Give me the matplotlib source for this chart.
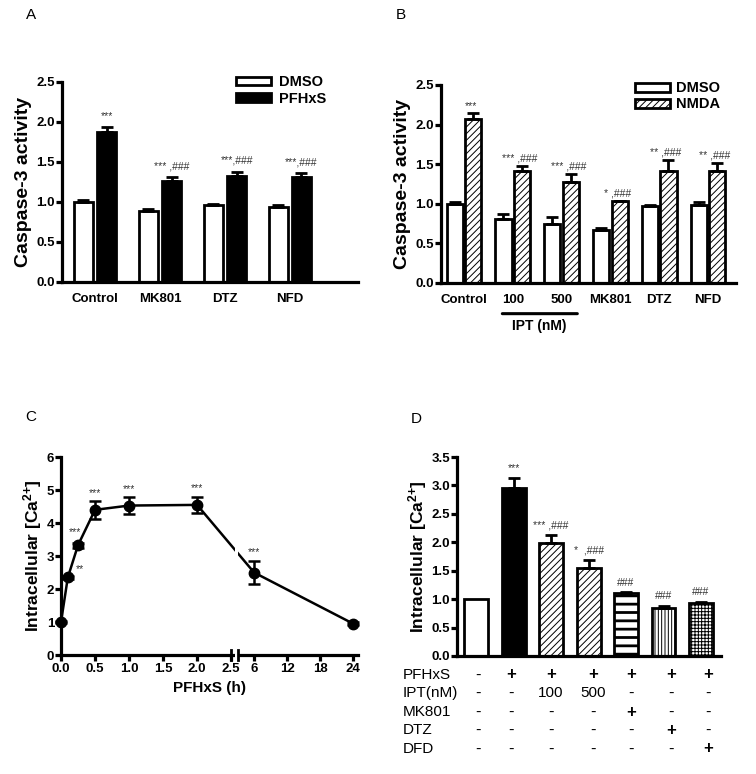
import numpy as np
import matplotlib
matplotlib.use("Agg")
import matplotlib.pyplot as plt
from matplotlib.patches import Patch

plt.rcParams['font.family'] = ['Liberation Sans', 'DejaVu Sans']
plt.rcParams['mathtext.default'] = 'bf'
plt.rcParams['mathtext.fontset'] = 'custom'
plt.rcParams['mathtext.bf'] = 'Liberation Sans:bold'
plt.rcParams['mathtext.rm'] = 'Liberation Sans'
plt.rcParams['hatch.linewidth'] = 0.7

# --- Panel A data ---
a_groups = ["Control", "MK801", "DTZ", "NFD"]
a_dmso = [1.00, 0.89, 0.96, 0.94]
a_dmso_err = [0.03, 0.02, 0.02, 0.02]
a_pfhxs = [1.88, 1.26, 1.33, 1.31]
a_pfhxs_err = [0.06, 0.05, 0.05, 0.05]
a_marks = ["***", "*** ,###", "***,###", "***,###"]

# --- Panel B data ---
b_groups = ["Control", "100", "500", "MK801", "DTZ", "NFD"]
b_dmso = [1.00, 0.81, 0.75, 0.67, 0.97, 0.99]
b_dmso_err = [0.02, 0.06, 0.08, 0.02, 0.02, 0.03]
b_nmda = [2.07, 1.41, 1.27, 1.03, 1.41, 1.41]
b_nmda_err = [0.07, 0.07, 0.11, 0.01, 0.14, 0.11]
b_marks = ["***", "*** ,###", "*** ,###", "* ,###", "** ,###", "** ,###"]

# --- Panel C data ---
c_time = [0.0, 0.1, 0.25, 0.5, 1.0, 2.0, 6.0, 24.0]
c_ca = [1.00, 2.35, 3.33, 4.40, 4.53, 4.55, 2.50, 0.95]
c_err = [0.03, 0.05, 0.08, 0.27, 0.25, 0.25, 0.36, 0.04]
c_marks = ["", "**", "***", "***", "***", "***", "***", ""]
c_ticks = [0.0, 0.5, 1.0, 1.5, 2.0, 2.5, 6, 12, 18, 24]
c_ticklabels = ["0.0", "0.5", "1.0", "1.5", "2.0", "2.5", "6", "12", "18", "24"]

# --- Panel D data ---
d_ca = [1.00, 2.95, 1.99, 1.54, 1.10, 0.84, 0.93]
d_err = [0.00, 0.18, 0.14, 0.15, 0.02, 0.04, 0.02]
d_marks = ["", "***", "*** ,###", "*  ,###", "###", "###", "###"]
d_rows = ["PFHxS", "IPT(nM)", "MK801", "DTZ", "DFD"]
d_table = [
    ["-", "+", "+", "+", "+", "+", "+"],
    ["-", "-", "100", "500", "-", "-", "-"],
    ["-", "-", "-", "-", "+", "-", "-"],
    ["-", "-", "-", "-", "-", "+", "-"],
    ["-", "-", "-", "-", "-", "-", "+"],
]

fig = plt.figure(figsize=(7.56, 7.74), dpi=100)

SPINE_W = 2.3
EDGE_W = 2.0
mark_kw = dict(ha='center', va='bottom', fontsize=7.5, color='#333333')
ca_label = "Intracellular [Ca$^{2{+}}$]"


def style_axes(ax):
    for s in ['top', 'right']:
        ax.spines[s].set_visible(False)
    for s in ['left', 'bottom']:
        ax.spines[s].set_linewidth(SPINE_W)
    ax.tick_params(axis='y', width=SPINE_W, length=4, labelsize=9.5, pad=1)
    for lab in ax.get_yticklabels():
        lab.set_fontweight('bold')


def err_kw():
    return dict(ecolor='black', elinewidth=EDGE_W, capsize=4.5, capthick=EDGE_W)


# ---------------- Panel A ----------------
axA = fig.add_axes([0.082, 0.6357, 0.3915, 0.2584])
x = np.arange(len(a_groups))
w = 0.29
off = 0.18
axA.bar(x - off, a_dmso, w, color='white', edgecolor='black', linewidth=EDGE_W,
        yerr=[np.zeros(4), a_dmso_err], error_kw=err_kw(), zorder=2)
axA.bar(x + off, a_pfhxs, w, color='black', edgecolor='black', linewidth=EDGE_W,
        yerr=[np.zeros(4), a_pfhxs_err], error_kw=err_kw(), zorder=2)
for i, m in enumerate(a_marks):
    axA.text(x[i] + off, a_pfhxs[i] + a_pfhxs_err[i] + 0.07, m, **mark_kw)
axA.set_xlim(-0.51, 4.05)
axA.set_ylim(0, 2.5)
axA.set_yticks(np.arange(0, 2.51, 0.5))
axA.set_yticklabels([f"{v:.1f}" for v in np.arange(0, 2.51, 0.5)])
axA.set_xticks(x)
axA.set_xticklabels(a_groups, fontweight='bold', fontsize=9.5)
axA.tick_params(axis='x', length=0, pad=8)
axA.set_ylabel("Caspase-3 activity", fontsize=14, fontweight='bold', labelpad=3)
style_axes(axA)
axA.legend(handles=[Patch(facecolor='white', edgecolor='black', linewidth=EDGE_W, label='DMSO'),
                    Patch(facecolor='black', edgecolor='black', linewidth=EDGE_W, label='PFHxS')],
           loc='upper left', bbox_to_anchor=(0.545, 1.1), frameon=False,
           handlelength=2.4, handleheight=0.55, handletextpad=0.5, labelspacing=0.2,
           prop={'weight': 'bold', 'size': 10.5})
fig.text(26 / 756, 1 - 15 / 774, "A", fontsize=11, va='center', ha='left')

# ---------------- Panel B ----------------
axB = fig.add_axes([0.5833, 0.6344, 0.390, 0.2558])
x = np.arange(len(b_groups))
w = 0.33
off = 0.19
axB.bar(x - off, b_dmso, w, color='white', edgecolor='black', linewidth=EDGE_W,
        yerr=[np.zeros(6), b_dmso_err], error_kw=err_kw(), zorder=2)
axB.bar(x + off, b_nmda, w, color='white', edgecolor='black', linewidth=EDGE_W,
        hatch='/////', yerr=[np.zeros(6), b_nmda_err], error_kw=err_kw(), zorder=2)
for i, m in enumerate(b_marks):
    axB.text(x[i] + off - 0.05, b_nmda[i] + b_nmda_err[i] + 0.03, m, **mark_kw)
axB.set_xlim(-0.47, 5.57)
axB.set_ylim(0, 2.5)
axB.set_yticks(np.arange(0, 2.51, 0.5))
axB.set_yticklabels([f"{v:.1f}" for v in np.arange(0, 2.51, 0.5)])
axB.set_xticks(x)
axB.set_xticklabels(b_groups, fontweight='bold', fontsize=9.5)
axB.tick_params(axis='x', length=0, pad=8)
axB.set_ylabel("Caspase-3 activity", fontsize=14, fontweight='bold', labelpad=3)
style_axes(axB)
axB.legend(handles=[Patch(facecolor='white', edgecolor='black', linewidth=EDGE_W, label='DMSO'),
                    Patch(facecolor='white', edgecolor='black', linewidth=EDGE_W, hatch='/////', label='NMDA')],
           loc='upper left', bbox_to_anchor=(0.615, 1.085), frameon=False,
           handlelength=2.4, handleheight=0.55, handletextpad=0.4, labelspacing=0.15,
           prop={'weight': 'bold', 'size': 10.5})
# IPT (nM) bracket under 100 and 500
axB.annotate("", xy=(0.73, -0.155), xytext=(2.38, -0.155), xycoords=('data', 'axes fraction'),
             arrowprops=dict(arrowstyle='-', lw=2.2, color='black'), annotation_clip=False)
axB.text(1.55, -0.215, "IPT (nM)", transform=axB.get_xaxis_transform(), ha='center', va='center',
         fontsize=10, fontweight='bold')
fig.text(396 / 756, 1 - 15 / 774, "B", fontsize=11, va='center', ha='left')

# ---------------- Panel C ----------------
def c_fwd(t):
    t = np.asarray(t, dtype=float)
    return np.where(t <= 2.5, t * 68.0, 193.0 + (t - 6.0) * 5.5)


def c_inv(u):
    u = np.asarray(u, dtype=float)
    return np.where(u <= 170.0, u / 68.0,
                    np.where(u < 173.75, 2.5, (u - 193.0) / 5.5 + 6.0))


axC = fig.add_axes([0.0807, 0.1537, 0.393, 0.2558])
axC.set_xscale('function', functions=(c_fwd, c_inv))
axC.errorbar(c_time, c_ca, yerr=c_err, color='black', lw=1.8, marker='o', markersize=7.5,
             ecolor='black', elinewidth=1.8, capsize=4.5, capthick=1.8, clip_on=False, zorder=3)
t_gap_end = float(c_inv(177.0))
axC.axvspan(2.52, t_gap_end - 0.02, ymin=-0.02, ymax=1.0, color='white', zorder=4,
            clip_on=False, lw=0)
bt = axC.get_xaxis_transform()
for xb in [2.5, t_gap_end]:
    axC.plot([xb, xb], [-0.025, 0.025], color='black', lw=2.0, transform=bt, clip_on=False, zorder=5)
# star positions around the steep rise are placed by hand (offset from the points)
c_spots = {1: (0.28, 2.62), 2: (0.2, 3.72)}
for i, m in enumerate(c_marks):
    if not m:
        continue
    if i in c_spots:
        axC.text(c_spots[i][0], c_spots[i][1], m, ha='center', va='center',
                 fontsize=7.5, color='#333333')
    else:
        axC.text(c_time[i], c_ca[i] + c_err[i] + 0.1, m, **mark_kw)
axC.set_xlim(0, 24.9)
axC.set_ylim(0, 6)
axC.set_xticks(c_ticks)
axC.set_xticklabels(c_ticklabels, fontweight='bold', fontsize=9.5)
axC.xaxis.set_minor_locator(matplotlib.ticker.NullLocator())
axC.tick_params(axis='x', width=SPINE_W, length=4, pad=2)
axC.set_yticks(range(0, 7))
axC.set_xlabel("PFHxS (h)", fontsize=11, fontweight='bold', labelpad=4)
axC.set_ylabel(ca_label, fontsize=12.5, fontweight='bold', labelpad=2)
style_axes(axC)
fig.text(25 / 756, 1 - 417 / 774, "C", fontsize=11, va='center', ha='left')

# ---------------- Panel D ----------------
axD = fig.add_axes([0.6045, 0.1525, 0.349, 0.257])
x = np.arange(len(d_ca))
d_face = ['white', 'black', 'white', 'white', 'white', 'white', 'white']
d_hatch = [None, None, '/////', '/////', '--', '|||||', '+++++']
d_hlw = [0.7, 0.7, 0.7, 0.7, 2.0, 0.7, 0.7]
for i in range(len(d_ca)):
    plt.rcParams['hatch.linewidth'] = d_hlw[i]
    bars = axD.bar(x[i], d_ca[i], 0.64, color=d_face[i], edgecolor='black', linewidth=EDGE_W,
                   hatch=d_hatch[i], yerr=[[0], [d_err[i]]] if d_err[i] > 0 else None,
                   error_kw=err_kw(), zorder=2)
    for b in bars:
        if hasattr(b, 'set_hatch_linewidth'):
            b.set_hatch_linewidth(d_hlw[i])
plt.rcParams['hatch.linewidth'] = 0.7
for i, m in enumerate(d_marks):
    if m:
        axD.text(x[i], d_ca[i] + d_err[i] + 0.08, m, **mark_kw)
axD.set_xlim(-0.51, 6.53)
axD.set_ylim(0, 3.5)
axD.set_yticks(np.arange(0, 3.51, 0.5))
axD.set_yticklabels([f"{v:.1f}" for v in np.arange(0, 3.51, 0.5)])
axD.set_xticks([])
axD.set_ylabel(ca_label, fontsize=12.5, fontweight='bold', labelpad=2)
style_axes(axD)
# condition table below panel D
row_y = [675, 693, 712, 730, 749]
col_x = [100, 133, 173, 215, 253, 293, 330]
for r, lab in enumerate(d_rows):
    fy = 1 - row_y[r] / 774
    fig.text(403 / 756, fy, lab, fontsize=11, ha='left', va='center')
    for c, val in enumerate(d_table[r]):
        fig.text((378 + col_x[c]) / 756, fy, val, fontsize=11 if val in ('100', '500') else 12,
                 ha='center', va='center', fontweight='bold' if val == '+' else 'normal')
fig.text(411 / 756, 1 - 419 / 774, "D", fontsize=11, va='center', ha='left')

fig.savefig("out.png", dpi=100)
